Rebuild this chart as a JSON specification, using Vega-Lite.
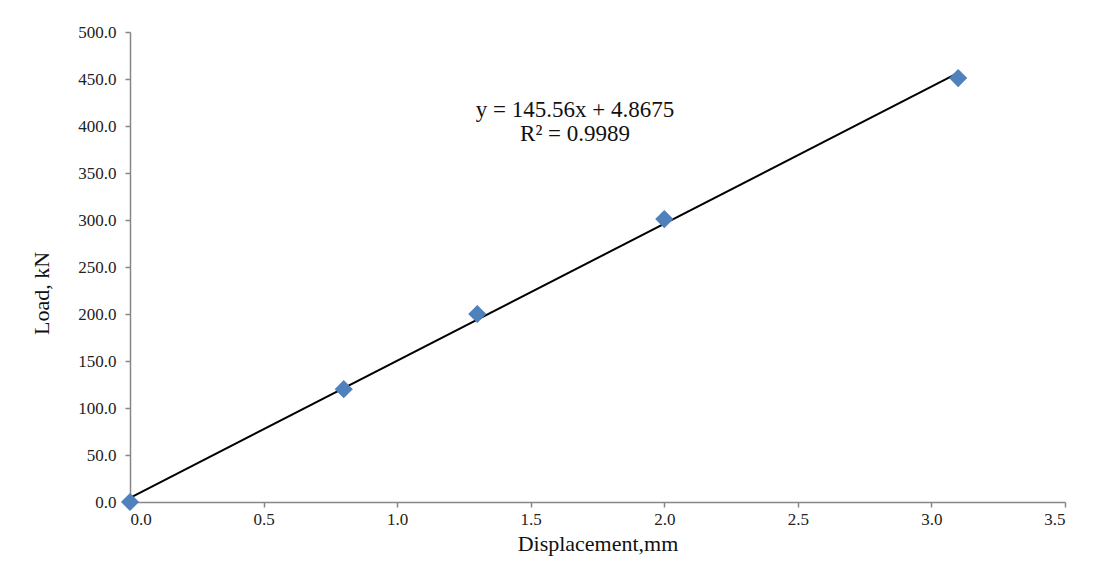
{
  "$schema": "https://vega.github.io/schema/vega-lite/v6.json",
  "width": 935,
  "height": 470,
  "autosize": {"type": "none"},
  "padding": {"left": 130, "top": 32, "right": 34, "bottom": 77},
  "background": "white",
  "config": {
    "view": {"stroke": null},
    "font": "Liberation Serif",
    "axis": {
      "grid": false,
      "domainColor": "#868686",
      "domainWidth": 1.5,
      "tickColor": "#868686",
      "tickWidth": 1.5,
      "tickSize": 5,
      "labelFont": "Liberation Serif",
      "labelFontSize": 17,
      "labelColor": "#222222",
      "titleFont": "Liberation Serif",
      "titleFontSize": 22,
      "titleFontWeight": "normal",
      "titleColor": "#111111"
    }
  },
  "data": {
    "values": [
      {"displacement": 0.0, "load": 0},
      {"displacement": 0.8, "load": 120},
      {"displacement": 1.3, "load": 200},
      {"displacement": 2.0, "load": 301},
      {"displacement": 3.1, "load": 451}
    ]
  },
  "layer": [
    {
      "transform": [
        {"regression": "load", "on": "displacement", "method": "linear", "extent": [0, 3.1]}
      ],
      "mark": {"type": "line", "color": "black", "strokeWidth": 2},
      "encoding": {
        "x": {"field": "displacement", "type": "quantitative"},
        "y": {"field": "load", "type": "quantitative"}
      }
    },
    {
      "mark": {"type": "point", "shape": "diamond", "filled": true, "color": "#4F81BD", "size": 330, "opacity": 1},
      "encoding": {
        "x": {
          "field": "displacement",
          "type": "quantitative",
          "title": "Displacement,mm",
          "scale": {"domain": [0, 3.5], "nice": false, "zero": true},
          "axis": {"values": [0, 0.5, 1, 1.5, 2, 2.5, 3, 3.5], "format": ".1f", "labelPadding": 4, "titlePadding": 6}
        },
        "y": {
          "field": "load",
          "type": "quantitative",
          "title": "Load, kN",
          "scale": {"domain": [0, 500], "nice": false},
          "axis": {"values": [0, 50, 100, 150, 200, 250, 300, 350, 400, 450, 500], "format": ".1f", "labelPadding": 9, "titlePadding": 24, "titleY": 261}
        }
      }
    },
    {
      "data": {"values": [{"label": "y = 145.56x + 4.8675"}]},
      "mark": {"type": "text", "fontSize": 23, "fontWeight": "normal", "font": "Liberation Serif", "fill": "#111111", "align": "center", "baseline": "middle"},
      "encoding": {
        "x": {"datum": 1.666, "type": "quantitative"},
        "y": {"datum": 417, "type": "quantitative"},
        "text": {"field": "label"}
      }
    },
    {
      "data": {"values": [{"label": "R² = 0.9989"}]},
      "mark": {"type": "text", "fontSize": 23, "fontWeight": "normal", "font": "Liberation Serif", "fill": "#111111", "align": "center", "baseline": "middle"},
      "encoding": {
        "x": {"datum": 1.666, "type": "quantitative"},
        "y": {"datum": 392, "type": "quantitative"},
        "text": {"field": "label"}
      }
    }
  ]
}
